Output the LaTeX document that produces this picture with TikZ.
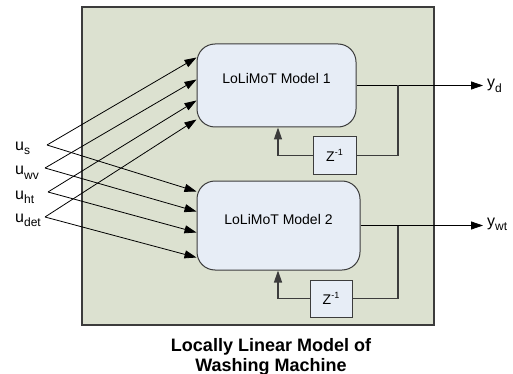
\documentclass[tikz,border=0pt]{standalone}
\usepackage{fontspec}
\setmainfont{Liberation Sans}
\usepackage{xcolor}
\usepackage{tikz}
\usetikzlibrary{arrows.meta, positioning, calc}
\definecolor{panel}  {HTML}{DCE1D0}
\definecolor{modfill}{HTML}{E7EDF6}
\definecolor{edge}   {HTML}{3C3C3C}
\newcommand{\lowsub}[1]{\raisebox{-0.3em}{\fontsize{12}{12}\selectfont #1}}
\newcommand{\highsup}[1]{\raisebox{0.45em}{\fontsize{9}{9}\selectfont #1}}

\begin{document}
\begin{tikzpicture}[
  x=1pt, y=-1pt,
  % Model blocks and delay blocks share the pale blue fill.
  modelbox/.style={draw=edge, fill=modfill, rounded corners=18pt, line width=1pt},
  delaybox/.style={draw=edge, fill=modfill, line width=1pt,
                   minimum width=43pt, minimum height=37pt, inner sep=0pt,
                   font=\fontsize{14}{16}\selectfont},
  modtext/.style={font=\fontsize{14}{16}\selectfont, inner sep=0pt},
  sig/.style={-{Triangle[length=12pt, width=8pt]}, line width=0.8pt},
  fb/.style={draw=edge, line width=1.3pt},
  fbarrow/.style={fb, -{Triangle[length=12pt, width=8pt]}},
  iolabel/.style={font=\fontsize{16}{18}\selectfont, inner sep=0pt, anchor=base west},
  caption/.style={font=\fontsize{18}{20}\selectfont\bfseries, align=center}
]
\useasboundingbox (0,0) rectangle (513,374);

% --- Panel ---
\draw[draw=edge, fill=panel, line width=1.8pt] (82,7) rectangle (434,325);

% --- Models ---
\node[modelbox, minimum width=159pt, minimum height=83pt] (m1) at (276.5,85.5) {};
\node[modelbox, minimum width=163pt, minimum height=89pt] (m2) at (278.5,225.5) {};
\node[modtext] (m1txt) at ([yshift=7pt]m1.center) {LoLiMoT Model 1};
\node[modtext] (m2txt) at ([yshift=6pt]m2.center) {LoLiMoT Model 2};

% --- Delays ---
\node[delaybox] (z1) at (334.5,155.5) {Z\highsup{-1}};
\node[delaybox, minimum width=42pt] (z2) at (331,298.5) {Z\highsup{-1}};

% --- Inputs ---
\node[iolabel] (us)   at (15,150) {u\lowsub{s}};
\node[iolabel] (uwv)  at (15,175) {u\lowsub{wv}};
\node[iolabel] (uht)  at (15,199) {u\lowsub{ht}};
\node[iolabel] (udet) at (15,222) {u\lowsub{det}};
\coordinate (fs)   at (47,145);
\coordinate (fwv)  at (45,168);
\coordinate (fht)  at (48,192);
\coordinate (fdet) at (45,217);

\draw[sig] (fs)   -- ($(m1.north west)+(0,14)$);
\draw[sig] (fwv)  -- ($(m1.north west)+(0,36)$);
\draw[sig] (fht)  -- ($(m1.north west)+(0,57)$);
\draw[sig] (fdet) -- ($(m1.north west)+(0,76)$);
\draw[sig] (fs)   -- ($(m2.north west)+(0,11)$);
\draw[sig] (fwv)  -- ($(m2.north west)+(0,31)$);
\draw[sig] (fht)  -- ($(m2.north west)+(0,52)$);
\draw[sig] (fdet) -- ($(m2.north west)+(0,77)$);

% --- Outputs ---
\node[iolabel] (yd)  at (487,88)  {y\lowsub{d}};
\node[iolabel] (ywt) at (487,226) {y\lowsub{wt}};
\coordinate (j1) at (398,85.5);
\coordinate (j2) at (398,225.5);
\draw[sig] (m1.east) -- ([xshift=-4pt]yd.west |- m1.east);
\draw[sig] (m2.east) -- ([xshift=-4pt]ywt.west |- m2.east);

% --- Feedback loops ---
\draw[fb] (j1) |- (z1.east);
\draw[fbarrow] (z1.west) -| ([xshift=1.5pt]m1.south);
\draw[fb] (j2) |- (z2.east);
\draw[fbarrow] (z2.west) -| ([xshift=-0.5pt]m2.south);

% --- Caption ---
\node[caption] (cap) at (271,357) {Locally Linear Model of\\Washing Machine};

\end{tikzpicture}
\end{document}
